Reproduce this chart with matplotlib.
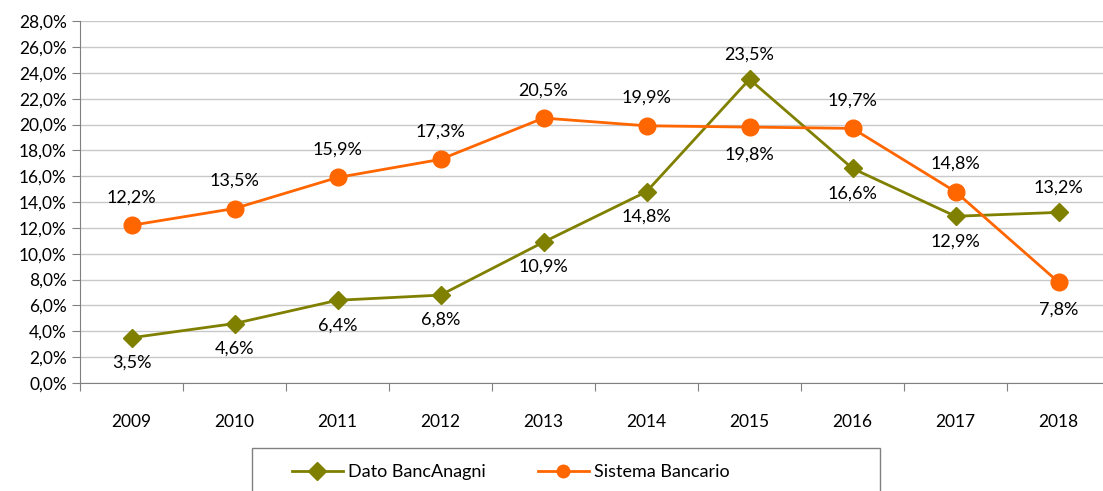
import matplotlib.pyplot as plt
from matplotlib.ticker import FuncFormatter, MultipleLocator
from matplotlib.patches import Rectangle

plt.rcParams['font.family'] = ['Lato', 'DejaVu Sans']

anni = ['2009', '2010', '2011', '2012', '2013', '2014', '2015', '2016', '2017', '2018']
banc_anagni = [3.5, 4.6, 6.4, 6.8, 10.9, 14.8, 23.5, 16.6, 12.9, 13.2]
sistema = [12.2, 13.5, 15.9, 17.3, 20.5, 19.9, 19.8, 19.7, 14.8, 7.8]
# posizione etichette: 1 sopra, -1 sotto
pos_anagni = [-1, -1, -1, -1, -1, -1, 1, -1, -1, 1]
pos_sistema = [1, 1, 1, 1, 1, 1, -1, 1, 1, -1]

verde = '#808000'
arancio = '#FF6600'

fig = plt.figure(figsize=(11.03, 4.91), dpi=100)
ax = fig.add_axes([80 / 1103, 0.22, 1030 / 1103, 0.737])

x = list(range(len(anni)))
ax.plot(x, banc_anagni, color=verde, lw=2, marker='D', ms=9, label='Dato BancAnagni')
ax.plot(x, sistema, color=arancio, lw=2, marker='o', ms=12, label='Sistema Bancario')

def fmt(v):
    return ('%.1f%%' % v).replace('.', ',')

for i in x:
    ax.annotate(fmt(banc_anagni[i]), (i, banc_anagni[i]), xytext=(0, 18 * pos_anagni[i]),
                textcoords='offset points', ha='center', va='center', fontsize=13)
    ax.annotate(fmt(sistema[i]), (i, sistema[i]), xytext=(0, 20 * pos_sistema[i]),
                textcoords='offset points', ha='center', va='center', fontsize=13)

ax.set_ylim(0, 28)
ax.set_xlim(-0.5, len(anni) - 0.5)
ax.yaxis.set_major_locator(MultipleLocator(2))
ax.yaxis.set_major_formatter(FuncFormatter(lambda v, p: fmt(v)))
ax.grid(axis='y', color='#c8c8c8', lw=1)
ax.set_axisbelow(True)

ax.set_xticks([i - 0.5 for i in range(len(anni) + 1)])
ax.set_xticklabels([])
ax.set_xticks(x, minor=True)
ax.set_xticklabels(anni, minor=True)
ax.tick_params(axis='x', which='minor', length=0, pad=22, labelsize=12.5)
ax.tick_params(axis='x', which='major', length=6, color='#808080')
ax.tick_params(axis='y', length=6, color='#808080', labelsize=12.5)

for s in ['top', 'right']:
    ax.spines[s].set_visible(False)
ax.spines['left'].set_color('#808080')
ax.spines['bottom'].set_color('#808080')

# cornice della legenda
fig.patches.append(Rectangle((252 / 1103, -0.05), 628 / 1103, 0.05 + 43 / 491,
                             transform=fig.transFigure, fill=False,
                             edgecolor='#808080', lw=1))
leg = fig.legend(loc='center left', bbox_to_anchor=(292 / 1103, 1 - 472 / 491),
                 ncol=2, fontsize=13, frameon=False, handlelength=2.8,
                 columnspacing=2.9, handletextpad=0.3, borderpad=0, borderaxespad=0)
for h in leg.legend_handles:
    h.set_markersize(9)

fig.savefig('out.png', dpi=100)
